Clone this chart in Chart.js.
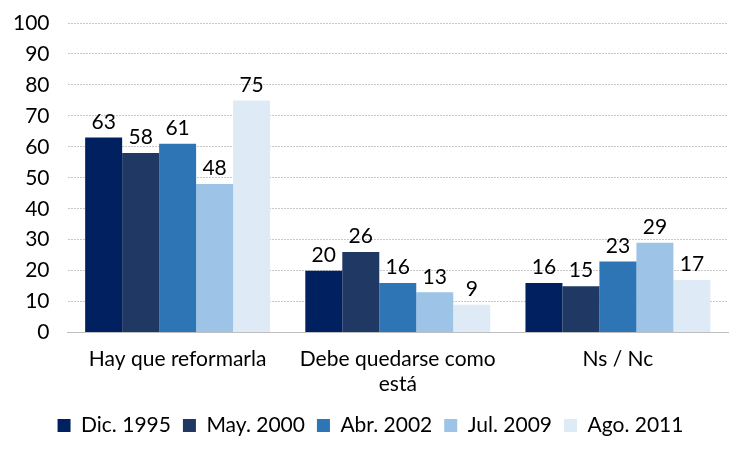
<!DOCTYPE html>
<html>
<head>
<meta charset="utf-8">
<script src="https://cdn.jsdelivr.net/npm/chart.js@4.4.0/dist/chart.umd.min.js"></script>
<style>
  html, body { margin: 0; padding: 0; background: #fff; }
  #wrap { width: 748px; height: 457px; }
</style>
</head>
<body>
<div id="wrap"><canvas id="grafica"></canvas></div>
<script>
const categorias = ["Hay que reformarla", ["Debe quedarse como", "está"], "Ns / Nc"];
const periodos = ["Dic. 1995", "May. 2000", "Abr. 2002", "Jul. 2009", "Ago. 2011"];
const dic1995 = [63, 20, 16];
const may2000 = [58, 26, 15];
const abr2002 = [61, 16, 23];
const jul2009 = [48, 13, 29];
const ago2011 = [75, 9, 17];
const colores = ["#002060", "#203864", "#2E75B6", "#9DC3E6", "#DEEBF7"];

/* etiquetas encima de cada barra */
const etiquetasBarras = {
    id: "etiquetasBarras",
    afterDatasetsDraw(chart) {
        const ctx = chart.ctx;
        ctx.save();
        ctx.font = "21px Lato";
        ctx.fillStyle = "#000";
        ctx.textAlign = "center";
        ctx.textBaseline = "bottom";
        chart.data.datasets.forEach((ds, i) => {
            chart.getDatasetMeta(i).data.forEach((bar, j) => {
                ctx.fillText(ds.data[j], bar.x, bar.y - 5);
            });
        });
        ctx.restore();
    }
};

const series = [dic1995, may2000, abr2002, jul2009, ago2011];

new Chart(document.getElementById("grafica"), {
    type: "bar",
    data: {
        labels: categorias,
        datasets: series.map((datos, i) => ({
            label: periodos[i],
            data: datos,
            backgroundColor: colores[i],
            borderWidth: 0
        }))
    },
    options: {
        responsive: true,
        maintainAspectRatio: false,
        animation: false,
        layout: { padding: { top: 23, right: 20, left: 13, bottom: 11 } },
        datasets: { bar: { categoryPercentage: 0.84, barPercentage: 1 } },
        plugins: {
            legend: {
                position: "bottom",
                labels: {
                    font: { family: "Lato", size: 21 },
                    color: "#000",
                    boxWidth: 13,
                    boxHeight: 13,
                    padding: 12
                }
            },
            tooltip: { enabled: false }
        },
        scales: {
            x: {
                grid: { display: false },
                border: { color: "#bfbfbf" },
                ticks: { font: { family: "Lato", size: 21, lineHeight: 1.2 }, color: "#000", padding: 6, maxRotation: 0 }
            },
            y: {
                min: 0,
                max: 100,
                ticks: { stepSize: 10, font: { family: "Lato", size: 21 }, color: "#000", padding: 0 },
                grid: { color: "#c8c8c8", drawTicks: true, tickLength: 18, tickColor: "rgba(0,0,0,0)" },
                border: { display: false, dash: [2, 1] }
            }
        }
    },
    plugins: [etiquetasBarras]
});
</script>
</body>
</html>
